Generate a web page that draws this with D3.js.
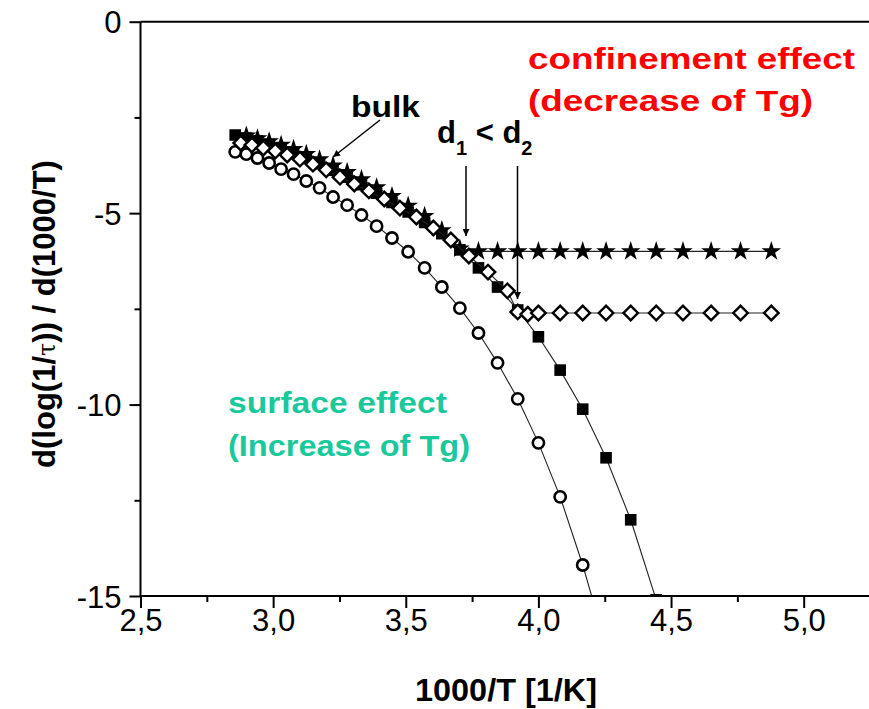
<!DOCTYPE html>
<html>
<head>
<meta charset="utf-8">
<script src="https://d3js.org/d3.v7.min.js"></script>
<style>
body { margin: 0; background: #fff; }
svg { display: block; font-family: "Liberation Sans", Arial, sans-serif; }
.axis path, .axis line { stroke: #000; stroke-width: 2px; }
.axis text { font-size: 31px; fill: #000; }
</style>
</head>
<body>
<svg id="chart" width="869" height="709"></svg>
<script>
// values: x = 1000/T, y = d(log(1/tau))/d(1000/T)
var circleX = [2.857,2.899,2.941,2.985,3.030,3.077,3.125,3.175,3.226,3.279,3.333,3.390,3.448,3.509,3.571,3.636,3.704,3.774,3.846,3.922,4.000,4.082,4.167,4.255];
var circleY = [-3.40,-3.46,-3.56,-3.69,-3.85,-3.98,-4.16,-4.34,-4.58,-4.79,-5.05,-5.34,-5.65,-6.01,-6.43,-6.93,-7.48,-8.13,-8.91,-9.85,-11.00,-12.41,-14.19,-16.3];

var squareX = [2.857,2.899,2.941,2.985,3.030,3.077,3.125,3.175,3.226,3.279,3.333,3.390,3.448,3.509,3.571,3.636,3.704,3.774,3.846,3.922,4.000,4.082,4.167,4.255,4.348,4.444];
var squareY = [-2.96,-3.04,-3.12,-3.21,-3.31,-3.43,-3.56,-3.71,-3.88,-4.06,-4.26,-4.48,-4.72,-4.97,-5.24,-5.54,-5.96,-6.43,-6.93,-7.53,-8.23,-9.10,-10.12,-11.39,-13.01,-15.1];

var starX = [2.899,2.941,2.985,3.030,3.077,3.125,3.175,3.226,3.279,3.333,3.390,3.448,3.509,3.571,3.636,3.704,3.774,3.846,3.922,4.000,4.082,4.167,4.255,4.348,4.444,4.545,4.651,4.762,4.878];
var starY = [-2.98,-3.05,-3.13,-3.22,-3.33,-3.46,-3.60,-3.76,-3.93,-4.12,-4.33,-4.56,-4.81,-5.08,-5.45,-5.93,-6.0,-6.0,-6.0,-6.0,-6.0,-6.0,-6.0,-6.0,-6.0,-6.0,-6.0,-6.0,-6.0];

var diamondX = [2.878,2.920,2.963,3.008,3.053,3.101,3.150,3.200,3.252,3.306,3.361,3.419,3.478,3.540,3.604,3.670,3.738,3.810,3.883,3.922,3.960,4.000,4.082,4.167,4.255,4.348,4.444,4.545,4.651,4.762,4.878];
var diamondY = [-3.17,-3.22,-3.30,-3.38,-3.48,-3.59,-3.72,-3.87,-4.06,-4.24,-4.42,-4.63,-4.87,-5.10,-5.39,-5.70,-6.12,-6.54,-7.03,-7.58,-7.64,-7.61,-7.61,-7.61,-7.61,-7.61,-7.61,-7.61,-7.61,-7.61,-7.61];

var xTicks = [2.5,3.0,3.5,4.0,4.5,5.0];
var xMinor = [2.75,3.25,3.75,4.25,4.75,5.25];
var yTicks = [0,-5,-10,-15];
var yMinor = [-2.5,-7.5,-12.5];

var svg = d3.select("#chart");

var x = d3.scaleLinear().domain([2.5, 5.25]).range([140.5, 870]);
var y = d3.scaleLinear().domain([0, -15]).range([21.7, 596]);

svg.append("clipPath").attr("id", "plotclip")
  .append("rect")
    .attr("x", 140.5).attr("y", 21.7)
    .attr("width", 870 - 140.5).attr("height", 596 - 21.7);

var plot = svg.append("g").attr("clip-path", "url(#plotclip)");

function zip(xs, ys) {
  return xs.map(function(v, i) { return [v, ys[i]]; });
}

var line = d3.line()
  .x(function(d) { return x(d[0]); })
  .y(function(d) { return y(d[1]); });

//each series: line first, then its markers
function drawSeries(pts, shape) {
  plot.append("path")
    .datum(pts)
    .attr("d", line)
    .attr("fill", "none")
    .attr("stroke", "#222")
    .attr("stroke-width", 1.1);

  var sel = plot.append("g").selectAll("path")
    .data(pts)
    .enter().append("path")
      .attr("transform", function(d) {
        var t = "translate(" + x(d[0]) + "," + y(d[1]) + ")";
        return shape.rotate ? t + " rotate(45)" : t;
      })
      .attr("d", d3.symbol().type(shape.type).size(shape.size));
  sel.attr("fill", shape.fill)
     .attr("stroke", shape.stroke)
     .attr("stroke-width", shape.width);
}

drawSeries(zip(circleX, circleY), {type: d3.symbolCircle, size: 100, fill: "#fff", stroke: "#000", width: 2.6});
drawSeries(zip(squareX, squareY), {type: d3.symbolSquare, size: 135, fill: "#000", stroke: "none", width: 0});
drawSeries(zip(starX, starY), {type: d3.symbolStar, size: 120, fill: "#000", stroke: "none", width: 0});
drawSeries(zip(diamondX, diamondY), {type: d3.symbolSquare, size: 105, fill: "#fff", stroke: "#000", width: 2.4, rotate: true});

// axes
var xAxis = svg.append("g").attr("class", "axis")
  .attr("transform", "translate(0,596)")
  .call(d3.axisBottom(x).tickValues(xTicks).tickSize(12).tickPadding(1)
    .tickFormat(function(d) { return d3.format(".1f")(d).replace(".", ","); }));
xAxis.select(".domain").attr("d", "M140.5,0H870");
xAxis.selectAll("text").attr("font-size", 31);

svg.append("g").attr("class", "axis")
  .attr("transform", "translate(0,596)")
  .call(d3.axisBottom(x).tickValues(xMinor).tickSize(6).tickFormat(""))
  .select(".domain").remove();

var yAxis = svg.append("g").attr("class", "axis")
  .attr("transform", "translate(140.5,0)")
  .call(d3.axisLeft(y).tickValues(yTicks).tickSize(11).tickPadding(8)
    .tickFormat(function(d) { return String(d); }));
yAxis.select(".domain").attr("d", "M0,21.7V596");
yAxis.selectAll("text").attr("dy", "0.36em");

svg.append("g").attr("class", "axis")
  .attr("transform", "translate(140.5,0)")
  .call(d3.axisLeft(y).tickValues(yMinor).tickSize(6).tickFormat(""))
  .select(".domain").remove();

// top frame line
svg.append("line")
  .attr("x1", 140.5).attr("x2", 870)
  .attr("y1", 21.7).attr("y2", 21.7)
  .attr("stroke", "#000").attr("stroke-width", 2);

// axis titles
svg.append("text")
  .attr("x", 506).attr("y", 701)
  .attr("text-anchor", "middle")
  .attr("font-size", 32).attr("font-weight", "bold")
  .attr("textLength", 182).attr("lengthAdjust", "spacingAndGlyphs")
  .text("1000/T [1/K]");

var yl = svg.append("text")
  .attr("transform", "translate(55,314) rotate(-90)")
  .attr("text-anchor", "middle")
  .attr("font-size", 31).attr("font-weight", "bold");
yl.append("tspan").text("d(log(1/");
yl.append("tspan").attr("font-weight", "normal").attr("font-family", "DejaVu Serif, serif").attr("font-size", 24).text("\u03c4");
yl.append("tspan").text(")) / d(1000/T)");

// arrows
var defs = svg.append("defs");
defs.append("marker")
  .attr("id", "ah")
  .attr("viewBox", "0 0 10 10")
  .attr("refX", 10).attr("refY", 5)
  .attr("markerWidth", 8).attr("markerHeight", 7)
  .attr("markerUnits", "userSpaceOnUse")
  .attr("orient", "auto")
  .append("path").attr("d", "M0,0L10,5L0,10Z").attr("fill", "#000");

var arrows = [
  [380, 120, 333, 157],
  [466, 166, 466, 236],
  [517.5, 166, 517.5, 299]
];
svg.selectAll("line.arrow")
  .data(arrows)
  .enter().append("line")
    .attr("class", "arrow")
    .attr("x1", function(d) { return d[0]; })
    .attr("y1", function(d) { return d[1]; })
    .attr("x2", function(d) { return d[2]; })
    .attr("y2", function(d) { return d[3]; })
    .attr("stroke", "#000").attr("stroke-width", 1.5)
    .attr("marker-end", "url(#ah)");

// annotations
svg.append("text")
  .attr("x", 351).attr("y", 117)
  .attr("font-size", 30).attr("font-weight", "bold")
  .attr("textLength", 69).attr("lengthAdjust", "spacingAndGlyphs")
  .text("bulk");

var dd = svg.append("text")
  .attr("x", 437).attr("y", 143)
  .attr("font-size", 31).attr("font-weight", "bold");
dd.append("tspan").text("d");
dd.append("tspan").attr("font-size", 20).attr("dy", 12).text("1");
dd.append("tspan").attr("dy", -12).text(" < d");
dd.append("tspan").attr("font-size", 20).attr("dy", 12).text("2");

svg.append("text")
  .attr("x", 528).attr("y", 69)
  .attr("font-size", 30).attr("font-weight", "bold")
  .attr("fill", "#ff0000")
  .attr("textLength", 327).attr("lengthAdjust", "spacingAndGlyphs")
  .text("confinement effect");
svg.append("text")
  .attr("x", 528).attr("y", 111)
  .attr("font-size", 30).attr("font-weight", "bold")
  .attr("fill", "#ff0000")
  .attr("textLength", 285).attr("lengthAdjust", "spacingAndGlyphs")
  .text("(decrease of Tg)");

svg.append("text")
  .attr("x", 228).attr("y", 413)
  .attr("font-size", 30).attr("font-weight", "bold")
  .attr("fill", "#19c99b")
  .attr("textLength", 219).attr("lengthAdjust", "spacingAndGlyphs")
  .text("surface effect");
svg.append("text")
  .attr("x", 228).attr("y", 456)
  .attr("font-size", 30).attr("font-weight", "bold")
  .attr("fill", "#19c99b")
  .attr("textLength", 242).attr("lengthAdjust", "spacingAndGlyphs")
  .text("(Increase of Tg)");
</script>
</body>
</html>
